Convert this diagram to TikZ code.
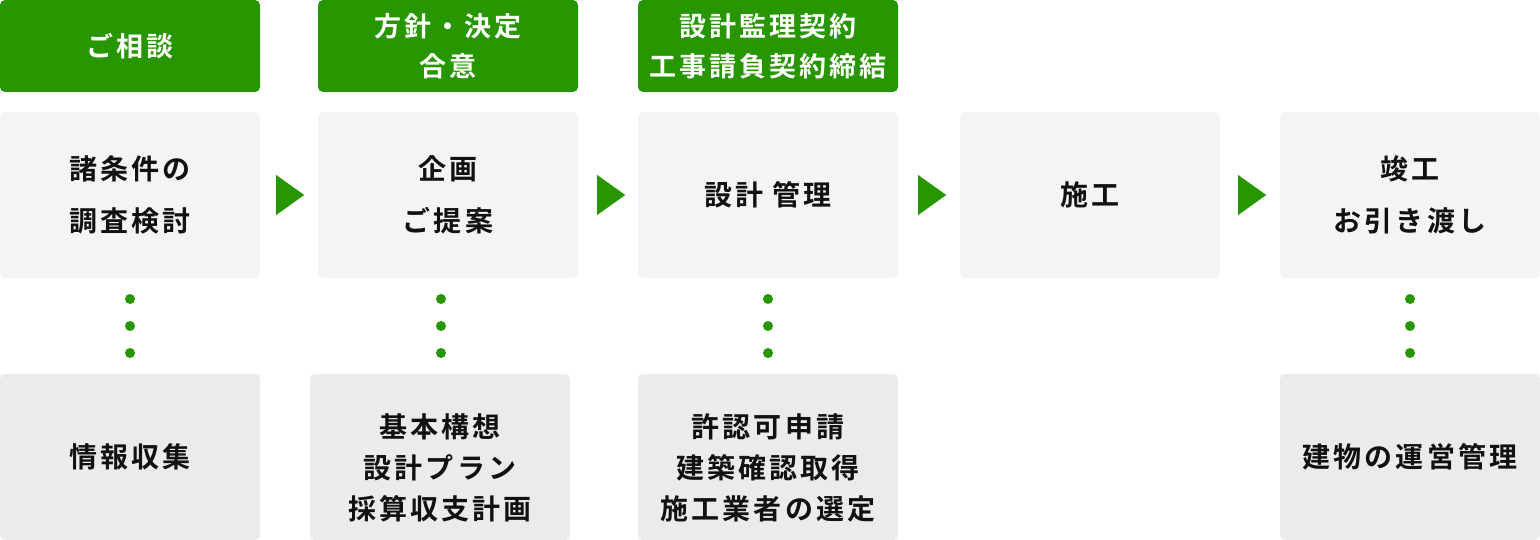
\documentclass[tikz,border=0pt]{standalone}
\usepackage{fontspec}
\newfontfamily\jp{Noto Sans CJK JP}[BoldFont={Noto Sans CJK JP Bold},LetterSpace=11]
\usetikzlibrary{shapes.geometric,calc}
\definecolor{flowgreen}{HTML}{279600}
\definecolor{stepgray}{HTML}{F4F5F3}
\definecolor{notegray}{HTML}{EBEBEB}
\definecolor{inkblack}{HTML}{111111}
\newcommand{\pushdown}{\rule{0pt}{45pt}}
\tikzset{
  head/.style={fill=flowgreen, rounded corners=5pt, minimum width=260pt, minimum height=92pt, inner sep=0pt, align=center, text=white, font={\jp\bfseries\fontsize{27}{40}\selectfont}},
  stepbox/.style={fill=stepgray, rounded corners=5pt, minimum width=260pt, minimum height=166pt, inner sep=0pt, align=center, text=inkblack, font={\jp\bfseries\fontsize{28}{52}\selectfont}},
  notebox/.style={fill=notegray, rounded corners=5pt, minimum width=260pt, minimum height=166pt, inner sep=0pt, align=center, text=inkblack, font={\jp\bfseries\fontsize{28}{41}\selectfont}},
  tri/.style={isosceles triangle, isosceles triangle stretches, fill=flowgreen, minimum width=40pt, minimum height=28pt, inner sep=0pt, anchor=west},
  dot/.style={circle, fill=flowgreen, minimum size=10pt, inner sep=0pt}
}
\begin{document}
\begin{tikzpicture}[x=1pt, y=-1pt]
  \useasboundingbox (0,0) rectangle (1540,540);

  % Define nodes
  \node[head] (h1) at (130,46) {ご相談};
  \node[head] (h2) at (448,46) {方針・決定\\合意};
  \node[head] (h3) at (768,46) {設計監理契約\\工事請負契約締結};

  \node[stepbox] (p1) at (130,195) {諸条件の\\調査検討};
  \node[stepbox] (p2) at (448,195) {企画\\ご提案};
  \node[stepbox] (p3) at (768,195) {設計 管理};
  \node[stepbox] (p4) at (1090,195) {施工};
  \node[stepbox] (p5) at (1410,195) {竣工\\お引き渡し};

  \node[notebox] (b1) at (130,457) {情報収集};
  \node[notebox] (b2) at (440,457) {\pushdown{}基本構想\\設計プラン\\採算収支計画};
  \node[notebox] (b3) at (768,457) {\pushdown{}許認可申請\\建築確認取得\\施工業者の選定};
  \node[notebox] (b5) at (1410,457) {建物の運営管理};

  % Draw arrows
  \node[tri] (a1) at (276,195) {};
  \node[tri] (a2) at (597,195) {};
  \node[tri] (a3) at (918,195) {};
  \node[tri] (a4) at (1238,195) {};

  % Draw dots
  \foreach \c/\x in {1/130, 2/441, 3/768, 5/1410} {
    \node[dot] (d\c a) at (\x,299) {};
    \node[dot] (d\c b) at (\x,326) {};
    \node[dot] (d\c c) at (\x,353) {};
  }

\end{tikzpicture}
\end{document}
